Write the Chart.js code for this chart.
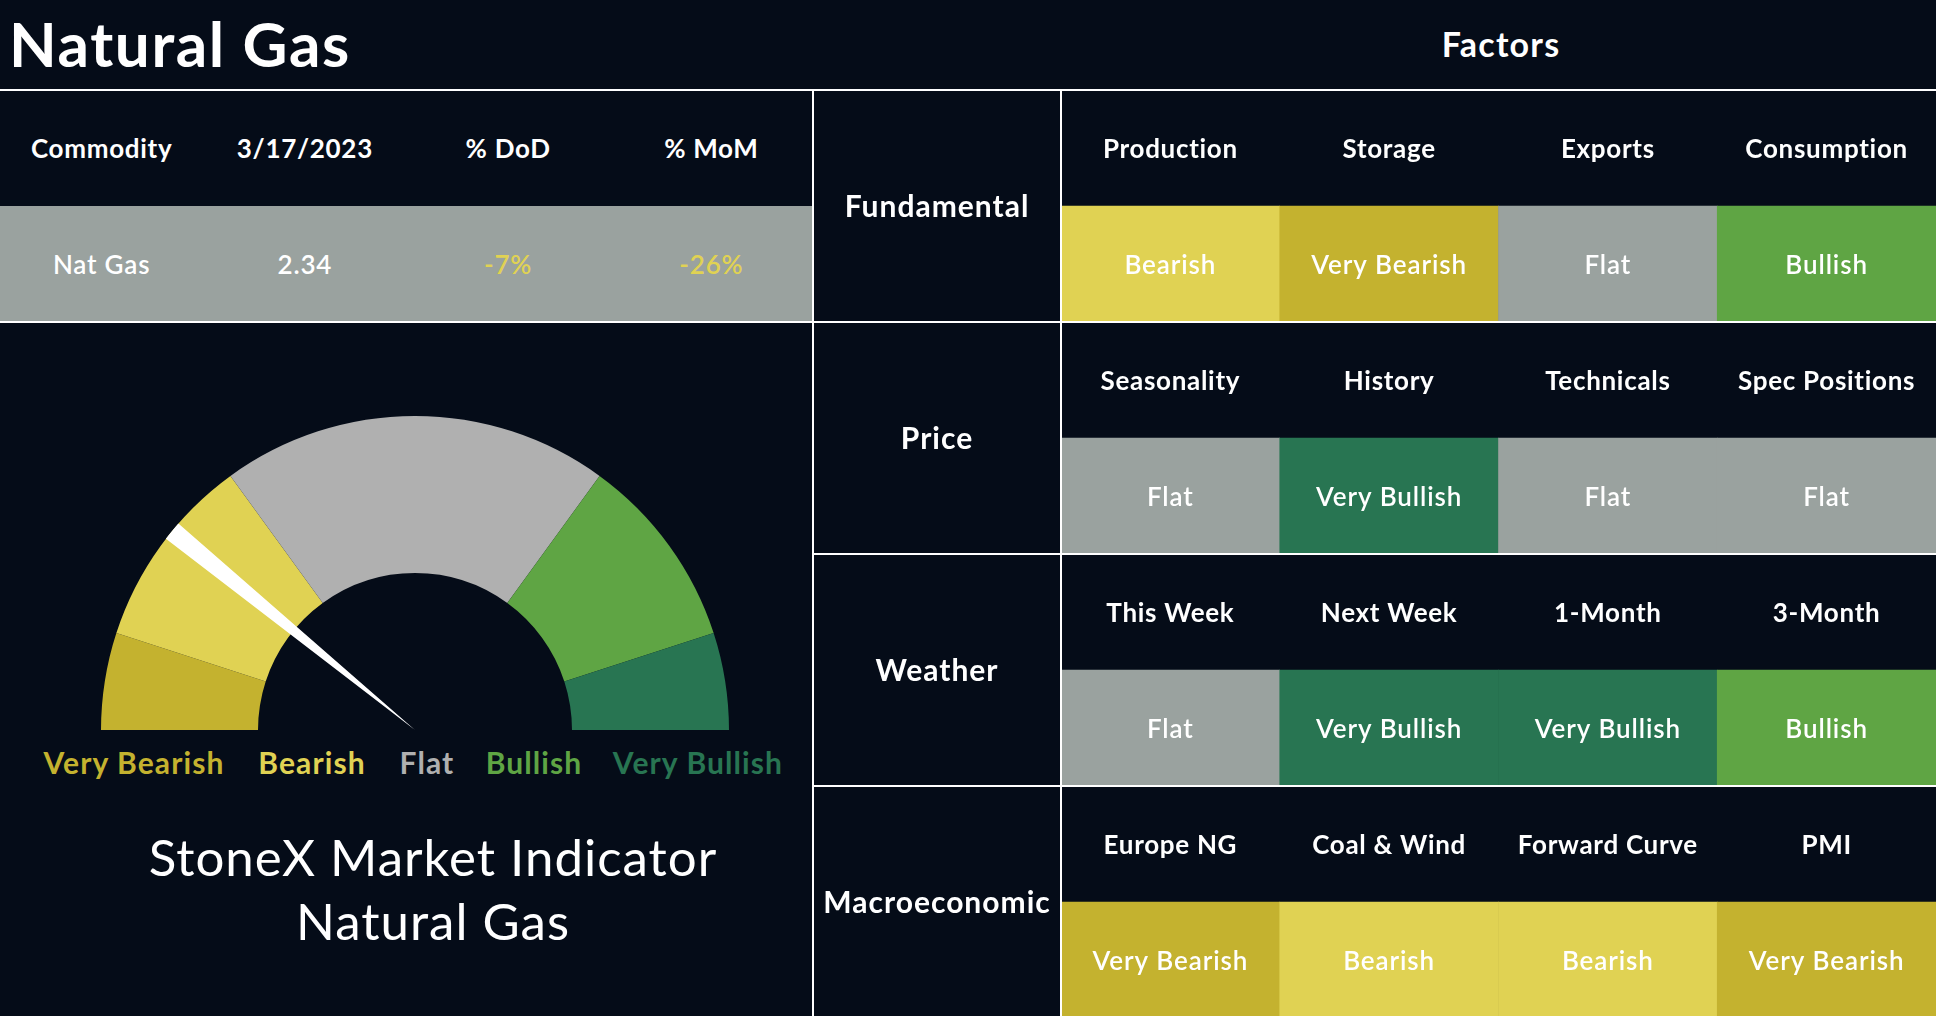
<!DOCTYPE html>
<html><head><meta charset="utf-8">
<script src="https://cdn.jsdelivr.net/npm/chart.js@4.4.0/dist/chart.umd.min.js"></script>
<style>
html,body{margin:0;padding:0;background:#050c18;width:1936px;height:1016px;overflow:hidden;font-family:Lato,sans-serif;color:#fff}
.t{position:absolute;line-height:1;white-space:nowrap;transform:translate(-50%,-50%)}
.hl{position:absolute;background:#fff;height:2px;z-index:5}
.vl{position:absolute;background:#fff;width:2px;z-index:5}
canvas{position:absolute}
</style></head><body>
<div id="root"></div>
<script>
// ---- data ----
const pageTitle = 'Natural Gas';
const factorsTitle = 'Factors';
const tableHeaders = ['Commodity', '3/17/2023', '% DoD', '% MoM'];
const tableValues = ['Nat Gas', '2.34', '-7%', '-26%'];
const sentimentLevels = ['Very Bearish', 'Bearish', 'Flat', 'Bullish', 'Very Bullish'];
const gaugeShares = [10, 20, 40, 20, 10];
const needleData = [37.5, 3.6, 138.9];
const groupNames = ['Fundamental', 'Price', 'Weather', 'Macroeconomic'];
const columnSlots = ['Factor 1', 'Factor 2', 'Factor 3', 'Factor 4'];
const fundamentalFactors = ['Production', 'Storage', 'Exports', 'Consumption'];
const fundamentalSignals = ['Bearish', 'Very Bearish', 'Flat', 'Bullish'];
const priceFactors = ['Seasonality', 'History', 'Technicals', 'Spec Positions'];
const priceSignals = ['Flat', 'Very Bullish', 'Flat', 'Flat'];
const weatherFactors = ['This Week', 'Next Week', '1-Month', '3-Month'];
const weatherSignals = ['Flat', 'Very Bullish', 'Very Bullish', 'Bullish'];
const macroFactors = ['Europe NG', 'Coal & Wind', 'Forward Curve', 'PMI'];
const macroSignals = ['Very Bearish', 'Bearish', 'Bearish', 'Very Bearish'];
const indicatorLines = ['StoneX Market Indicator', 'Natural Gas'];

// ---- styles ----
const cellColors = ['#c4b22f', '#e0d253', '#9aa29f', '#5fa544', '#287552'];
const gaugeColors = ['#c4b22f', '#e0d253', '#b0b0b0', '#5fa544', '#287552'];
const factorNames = [fundamentalFactors, priceFactors, weatherFactors, macroFactors];
const factorSignals = [fundamentalSignals, priceSignals, weatherSignals, macroSignals];

const root = document.getElementById('root');
function addText(txt, cx, cy, font, color, ls, left) {
  const d = document.createElement('div');
  d.className = 't';
  d.textContent = txt;
  d.style.left = cx + 'px';
  d.style.top = cy + 'px';
  d.style.font = font;
  d.style.color = color || '#fff';
  if (ls) d.style.letterSpacing = ls + 'px';
  if (left) d.style.transform = 'translate(0,-50%)';
  root.appendChild(d);
  return d;
}
function addBox(cls, l, t, w, h, bg) {
  const d = document.createElement('div');
  d.className = cls;
  d.style.left = l + 'px'; d.style.top = t + 'px';
  if (w != null) d.style.width = w + 'px';
  if (h != null) d.style.height = h + 'px';
  if (bg) { d.style.background = bg; d.style.position = 'absolute'; }
  root.appendChild(d);
  return d;
}

addText(pageTitle, 9, 43, '700 62px Lato', '#fff', 1.6, true);
addText(factorsTitle, 1501, 43, '700 34px Lato', '#fff', 1.2);
addBox('hl', 0, 89, 1936, null);
addBox('hl', 0, 321, 813, null);
addBox('vl', 812, 90, null, 926);

// commodity table
addBox('', 0, 206, 813, 116, '#9aa29f');
const colW = 813 / 4;
tableHeaders.forEach((h, i) => addText(h, colW * i + colW / 2, 148, '700 26px Lato', '#fff', 0.7));
tableValues.forEach((v, i) => addText(v, colW * i + colW / 2, 264, '600 26px Lato', i >= 2 ? '#e0d253' : '#fff', 0.8));

// gauge labels
const labelCenters = [134, 312, 427, 534, 698];
sentimentLevels.forEach((s, i) => addText(s, labelCenters[i], 762, '700 30px Lato', gaugeColors[i], 1.1));
indicatorLines.forEach((s, i) => addText(s, 433, 856 + i * 64, '400 51px Lato', '#fff', 1.0));

function mkCanvas(l, t, w, h) {
  const c = document.createElement('canvas');
  c.width = w; c.height = h;
  c.style.left = l + 'px'; c.style.top = t + 'px';
  c.style.width = w + 'px'; c.style.height = h + 'px';
  root.appendChild(c);
  return c;
}

// gauge
const gCanvas = mkCanvas(101, 416, 628, 314);
new Chart(gCanvas, {
  type: 'doughnut',
  data: { labels: sentimentLevels, datasets: [{ data: gaugeShares, backgroundColor: gaugeColors, borderWidth: 0 }] },
  options: {
    responsive: false, animation: false, rotation: -90, circumference: 180, cutout: '50%',
    layout: { padding: 0 },
    plugins: { legend: { display: false }, tooltip: { enabled: false } }
  }
});
const nCanvas = mkCanvas(101, 416, 628, 314);
new Chart(nCanvas, {
  type: 'pie',
  data: { labels: ['before', 'needle', 'after'], datasets: [{ data: needleData, backgroundColor: ['rgba(0,0,0,0)', '#ffffff', 'rgba(0,0,0,0)'], borderWidth: 0 }] },
  options: {
    responsive: false, animation: false, rotation: -90, circumference: 180,
    layout: { padding: 0 },
    plugins: { legend: { display: false }, tooltip: { enabled: false } }
  }
});

// factor grid
const gridPlugin = {
  id: 'gridText',
  afterDatasetsDraw(chart) {
    const { ctx, chartArea, scales: { x, y } } = chart;
    ctx.save();
    ctx.strokeStyle = '#fff'; ctx.lineWidth = 2;
    groupNames.forEach((g, i) => {
      if (i === 0) return;
      const py = Math.round(y.getPixelForValue(i * 2));
      ctx.beginPath(); ctx.moveTo(0, py); ctx.lineTo(chart.width, py); ctx.stroke();
    });
    ctx.beginPath(); ctx.moveTo(chartArea.left, 0); ctx.lineTo(chartArea.left, chart.height); ctx.stroke();
    ctx.fillStyle = '#fff'; ctx.textAlign = 'center'; ctx.textBaseline = 'alphabetic';
    groupNames.forEach((g, i) => {
      ctx.font = '700 30px Lato';
      ctx.letterSpacing = '1px';
      ctx.fillText(g, chartArea.left / 2, y.getPixelForValue(i * 2 + 1) + 10.8);
      ctx.font = '700 26px Lato';
      ctx.letterSpacing = '0.7px';
      factorNames[i].forEach((f, c) => {
        ctx.fillText(f, x.getPixelForValue(c), y.getPixelForValue(i * 2 + 0.5) + 9.5);
      });
      ctx.font = '600 26px Lato';
      ctx.letterSpacing = '0.9px';
      factorSignals[i].forEach((s, c) => {
        ctx.fillText(s, x.getPixelForValue(c), y.getPixelForValue(i * 2 + 1.5) + 9.5);
      });
    });
    ctx.restore();
  }
};
const fCanvas = mkCanvas(813, 90, 1123, 928);
new Chart(fCanvas, {
  type: 'bar',
  data: {
    labels: columnSlots,
    datasets: groupNames.map((g, i) => ({
      label: g,
      data: factorSignals[i].map(() => [i * 2 + 1, i * 2 + 2]),
      backgroundColor: factorSignals[i].map(s => cellColors[sentimentLevels.indexOf(s)]),
      borderWidth: 0, grouped: false, barPercentage: 1, categoryPercentage: 1, borderSkipped: false
    }))
  },
  options: {
    responsive: false, animation: false,
    layout: { padding: { left: 248, right: 0, top: 0, bottom: 0 } },
    scales: {
      x: { display: false, offset: true },
      y: { display: false, min: 0, max: 8, reverse: true }
    },
    plugins: { legend: { display: false }, tooltip: { enabled: false } }
  },
  plugins: [gridPlugin]
});
</script>
</body></html>
